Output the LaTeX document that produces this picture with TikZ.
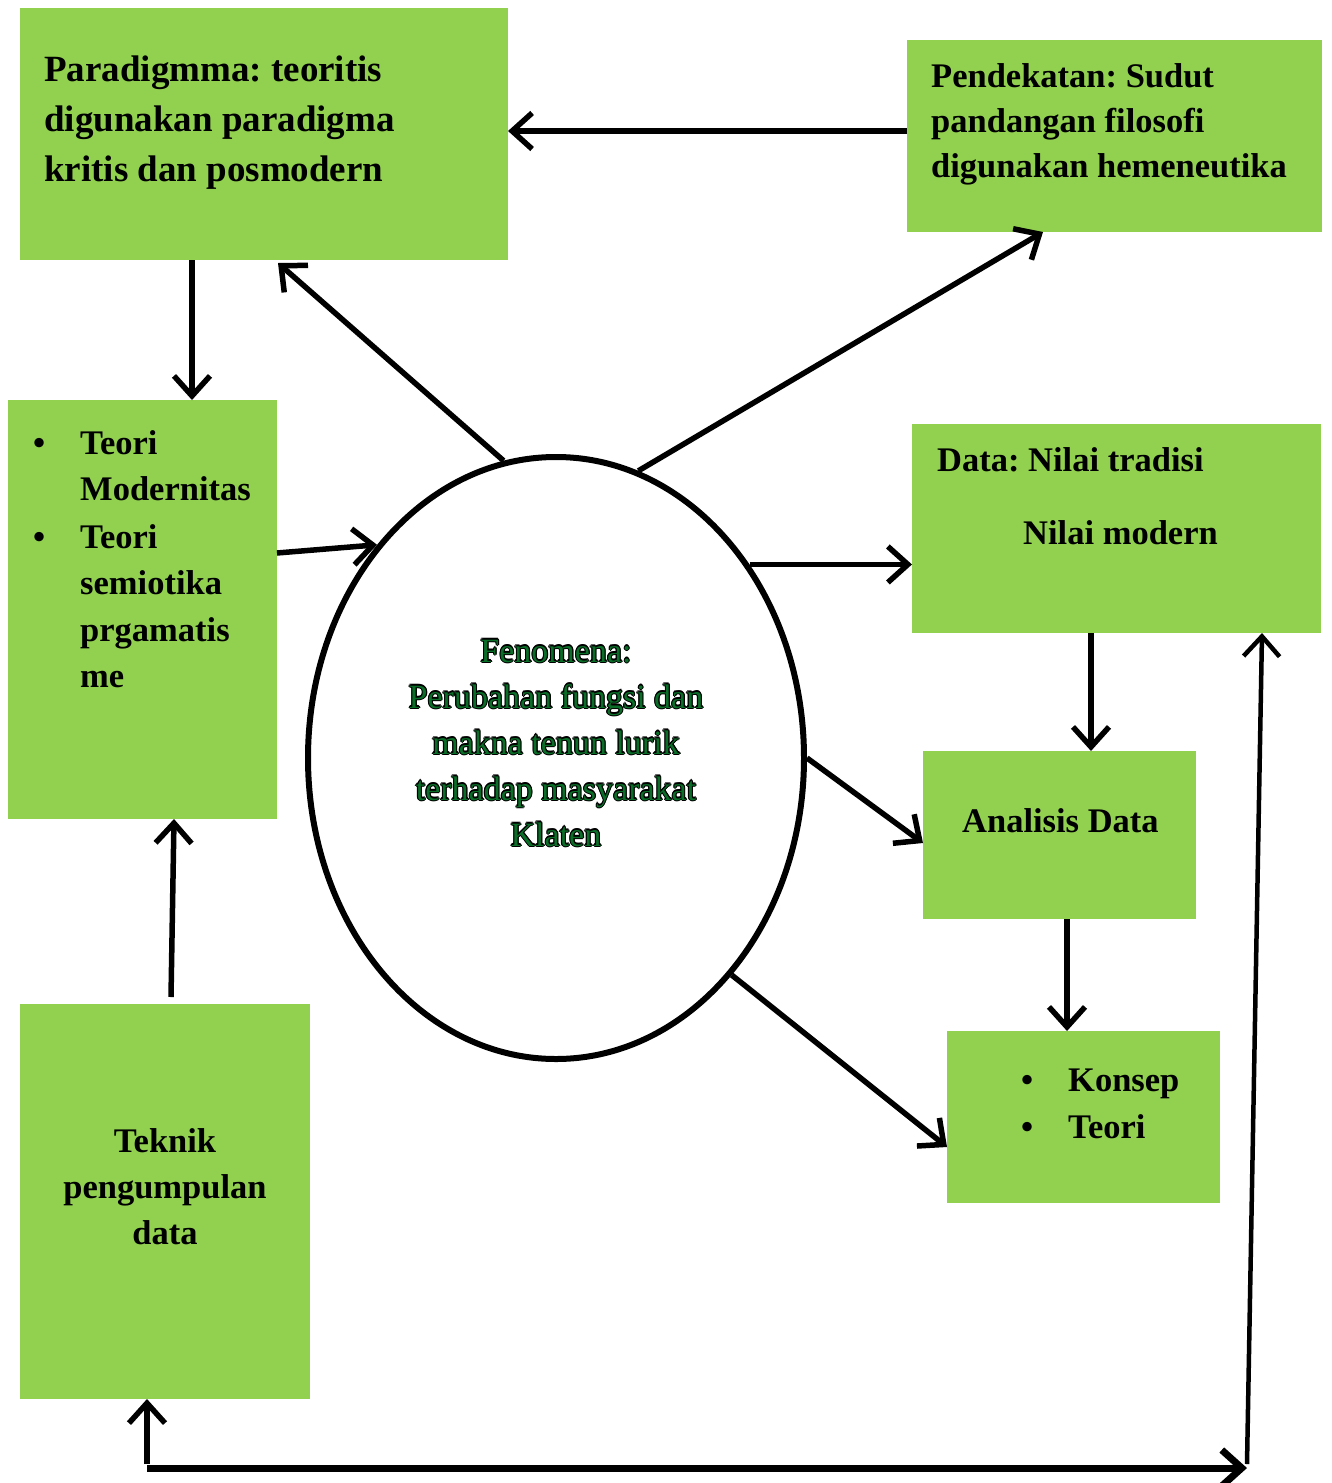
\documentclass[tikz,border=0pt]{standalone}
\usepackage{fontspec}
\setmainfont{Liberation Serif}
\usetikzlibrary{arrows.meta,shapes.geometric}
\definecolor{boxgreen}{RGB}{146,208,80}
\definecolor{fenogreen}{RGB}{10,110,40}
\newcommand\olsh[3]{\makebox[0pt][l]{\hspace{#1}\raisebox{#2}{\color{black}#3}}}
\newcommand\olt[1]{\olsh{1.1pt}{0pt}{#1}\olsh{-1.1pt}{0pt}{#1}\olsh{0pt}{1.1pt}{#1}\olsh{0pt}{-1.1pt}{#1}\olsh{0.8pt}{0.8pt}{#1}\olsh{-0.8pt}{0.8pt}{#1}\olsh{0.8pt}{-0.8pt}{#1}\olsh{-0.8pt}{-0.8pt}{#1}{\color{fenogreen}#1}}
\begin{document}
\frenchspacing
\begin{tikzpicture}[x=1pt,y=-1pt,
  box/.style={fill=boxgreen, draw=none, inner sep=0pt, outer sep=0pt, anchor=north west},
  lbl/.style={font=\fontsize{34.5}{40}\selectfont\bfseries, inner sep=0pt, anchor=base west},
  lblc/.style={font=\fontsize{34.5}{40}\selectfont\bfseries, inner sep=0pt, anchor=base},
  big/.style={font=\fontsize{37}{44}\selectfont\bfseries, inner sep=0pt, anchor=base west},
  feno/.style={font=\fontsize{34}{40}\selectfont, inner sep=0pt, anchor=base},
  arr/.style={line width=5.5pt, -{Straight Barb[length=20pt,width=36pt]}}]
\useasboundingbox (0,0) rectangle (1331,1483);

% boxes
\node[box, minimum width=488pt, minimum height=252pt] (par) at (20,8) {};
\node[box, minimum width=415pt, minimum height=192pt] (pend) at (907,40) {};
\node[box, minimum width=269pt, minimum height=419pt] (teori) at (8,400) {};
\node[box, minimum width=409pt, minimum height=209pt] (data) at (912,424) {};
\node[box, minimum width=273pt, minimum height=168pt] (ana) at (923,751) {};
\node[box, minimum width=273pt, minimum height=172pt] (kon) at (947,1031) {};
\node[box, minimum width=290pt, minimum height=395pt] (tek) at (20,1004) {};
\node[draw, ellipse, line width=6pt, fill=white, minimum width=496pt, minimum height=602pt, inner sep=0pt] (fen) at (556,758) {};

% texts
\node[big] (par1) at (44,81) {Paradigmma: teoritis};
\node[big] (par2) at (44,131) {digunakan paradigma};
\node[big] (par3) at (44,181) {kritis dan posmodern};

\node[lbl] (pe1) at (931,87) {Pendekatan: Sudut};
\node[lbl] (pe2) at (931,132) {pandangan filosofi};
\node[lbl] (pe3) at (931,177) {digunakan hemeneutika};

\node[lbl] (tb1) at (33,454) {•};
\node[lbl] (tt1) at (80,454) {Teori};
\node[lbl] (tt2) at (80,500) {Modernitas};
\node[lbl] (tb2) at (33,548) {•};
\node[lbl] (tt3) at (80,548) {Teori};
\node[lbl] (tt4) at (80,594) {semiotika};
\node[lbl] (tt5) at (80,641) {prgamatis};
\node[lbl] (tt6) at (80,687) {me};

\node[lbl] (d1) at (937,471) {Data: Nilai tradisi};
\node[lbl] (d2) at (1023,544) {Nilai modern};

\node[lbl] (a1) at (962,832) {Analisis Data};

\node[lbl] (kb1) at (1021,1091) {•};
\node[lbl] (k1) at (1068,1091) {Konsep};
\node[lbl] (kb2) at (1021,1138) {•};
\node[lbl] (k2) at (1068,1138) {Teori};

\node[lblc] (te1) at (165,1152) {Teknik};
\node[lblc] (te2) at (165,1198) {pengumpulan};
\node[lblc] (te3) at (165,1244) {data};

\node[feno] (f1) at (556,662) {\olt{Fenomena:}};
\node[feno] (f2) at (556,708) {\olt{Perubahan fungsi dan}};
\node[feno] (f3) at (556,754) {\olt{makna tenun lurik}};
\node[feno] (f4) at (556,800) {\olt{terhadap masyarakat}};
\node[feno] (f5) at (556,846) {\olt{Klaten}};

% connectors
\draw[arr] ([yshift=-91pt]pend.north west) -- ([yshift=-91pt]pend.north west -| par.east);
\draw[arr] ([xshift=172pt]par.south west) -- ([xshift=184pt]teori.north west);
\draw[arr] (fen.100) -- ([xshift=258pt,yshift=-3pt]par.south west);
\draw[arr] (fen.74) -- ([xshift=136pt]pend.south west);
\draw[arr] ([yshift=-153pt]teori.north east) -- (fen.130);
\draw[arr] (fen.45) -- (fen.45 -| data.west);
\draw[arr] ([xshift=179pt]data.south west) -- ([xshift=179pt]data.south west |- ana.north);
\draw[arr] (fen.0) -- ([yshift=-8pt]ana.west);
\draw[arr] ([xshift=144pt]ana.south west) -- ([xshift=144pt]ana.south west |- kon.north);
\draw[arr] (fen.-51) -- ([yshift=-30pt]kon.west);
\draw[arr] ([xshift=151pt,yshift=7pt]tek.north west) -- ([xshift=166pt]teori.south west);

\coordinate (bl) at (147,1468);
\coordinate (br) at (1247,1468);
\draw[arr] ([yshift=4pt]bl) -- ([xshift=127pt]tek.south west);
\draw[line width=7pt, -{Straight Barb[length=20pt,width=36pt]}] (bl) -- (br);
\draw[arr, line width=4.5pt] ([yshift=4pt]br) -- ([xshift=350pt]data.south west);
\end{tikzpicture}
\end{document}
